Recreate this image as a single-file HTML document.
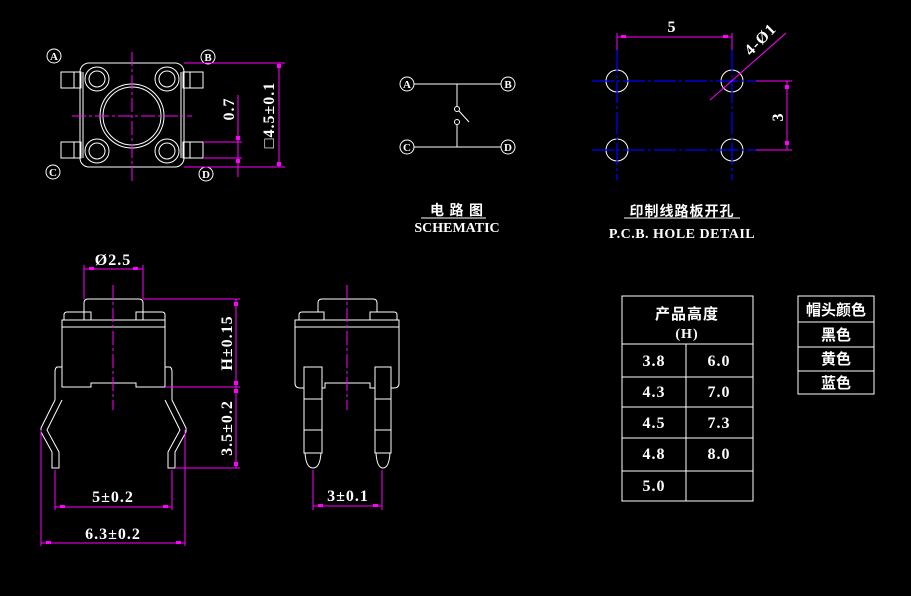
<!DOCTYPE html>
<html><head><meta charset="utf-8"><style>
html,body{margin:0;padding:0;background:#000;}
svg{display:block;}
text{font-family:"Liberation Serif","Noto Serif CJK SC",serif;fill:#fff;font-weight:bold;}
.cj{font-family:"Liberation Serif","Noto Sans CJK SC",sans-serif;}
</style></head><body>
<svg width="911" height="596" viewBox="0 0 911 596" xmlns="http://www.w3.org/2000/svg">
<rect width="911" height="596" fill="#000"/>
<g fill="none" stroke="#fff" stroke-width="1">
<rect x="80" y="63" width="104" height="104" rx="9"/>
<line x1="83" y1="72" x2="83" y2="158"/><line x1="181" y1="72" x2="181" y2="158"/>
<circle cx="97" cy="79" r="12"/><circle cx="97" cy="79" r="8"/>
<circle cx="167" cy="79" r="12"/><circle cx="167" cy="79" r="8"/>
<circle cx="97" cy="151" r="12"/><circle cx="97" cy="151" r="8"/>
<circle cx="167" cy="151" r="12"/><circle cx="167" cy="151" r="8"/>
<circle cx="132" cy="116" r="32"/><circle cx="132" cy="116" r="29"/>
<rect x="61" y="72" width="20" height="16"/><line x1="74" y1="72" x2="74" y2="88"/>
<rect x="183" y="72" width="20" height="16"/><line x1="190" y1="72" x2="190" y2="88"/>
<rect x="61" y="142" width="20" height="16"/><line x1="74" y1="142" x2="74" y2="158"/>
<rect x="183" y="142" width="20" height="16"/><line x1="190" y1="142" x2="190" y2="158"/>
<circle cx="54" cy="56" r="7"/><circle cx="208" cy="57" r="7"/>
<circle cx="53" cy="172" r="7"/><circle cx="206" cy="174" r="7"/>
<circle cx="407" cy="84" r="7"/><circle cx="508" cy="84" r="7"/>
<circle cx="407" cy="147" r="7"/><circle cx="508" cy="147" r="7"/>
<line x1="414" y1="84" x2="501" y2="84"/><line x1="414" y1="147" x2="501" y2="147"/>
<line x1="457" y1="84" x2="457" y2="106"/><circle cx="457" cy="109" r="2.5"/>
<line x1="459" y1="111" x2="469" y2="122"/><circle cx="457" cy="122" r="2.5"/>
<line x1="457" y1="125" x2="457" y2="147"/>
<line x1="421" y1="218" x2="486" y2="218"/>
<line x1="624" y1="218" x2="740" y2="218"/>
<!-- SIDE VIEW -->
<path d="M84 320 L84 303 Q84 299 88 299 L139 299 Q143 299 143 303 L143 320"/>
<path d="M64 320 L64 315 Q64 312 67 312 L91 312 L91 320"/>
<path d="M136 320 L136 312 L162 312 Q165 312 165 315 L165 320"/>
<path d="M62 387 L62 320 L165 320 L165 387 L136 387 L136 383 L91 383 L91 387 Z"/>
<line x1="62" y1="327" x2="165" y2="327"/>
<path d="M62 367 L57 367 Q55 368 55 372 L55 400 L41 428 L41 432 L52 452 L52 468 L59 468 L59 452 L47 430 L62 400"/>
<path d="M165 367 L170 367 Q172 368 172 372 L172 400 L186 428 L186 432 L175 452 L175 468 L168 468 L168 452 L180 430 L165 400"/>
<!-- FRONT VIEW -->
<path d="M318 312 L318 303 Q318 299 322 299 L373 299 Q377 299 377 303 L377 312"/>
<path d="M299 320 L299 315 Q299 312 302 312 L324 312 L324 320"/>
<path d="M370 320 L370 312 L394 312 Q397 312 397 315 L397 320"/>
<path d="M295 320 L399 320 L399 383 Q399 388 394 388 L370 388 L370 383 L325 383 L325 388 L300 388 Q295 388 295 383 Z"/>
<line x1="295" y1="327" x2="399" y2="327"/>
<rect x="304" y="367" width="18" height="86" fill="#000"/>
<line x1="304" y1="399" x2="322" y2="399"/><line x1="304" y1="430" x2="322" y2="430"/>
<path d="M305 453 Q306 468 313 468 Q320 468 321 453"/>
<rect x="375" y="367" width="16" height="86" fill="#000"/>
<line x1="375" y1="399" x2="391" y2="399"/><line x1="375" y1="430" x2="391" y2="430"/>
<path d="M376 453 Q377 468 383 468 Q389 468 390 453"/>
<circle cx="617" cy="81" r="11"/><circle cx="732" cy="81" r="11"/>
<circle cx="617" cy="150" r="11"/><circle cx="732" cy="150" r="11"/>
<rect x="622" y="296" width="131" height="205"/>
<line x1="622" y1="344" x2="753" y2="344"/><line x1="622" y1="377" x2="753" y2="377"/>
<line x1="622" y1="407" x2="753" y2="407"/><line x1="622" y1="438" x2="753" y2="438"/>
<line x1="622" y1="471" x2="753" y2="471"/><line x1="686" y1="344" x2="686" y2="501"/>
<rect x="798" y="296" width="76" height="98"/>
<line x1="798" y1="322" x2="874" y2="322"/><line x1="798" y1="347" x2="874" y2="347"/>
<line x1="798" y1="371" x2="874" y2="371"/>
</g>
<g stroke="#0000ff" stroke-width="1.3" stroke-dasharray="22 3 3 3">
<line x1="592" y1="81" x2="756" y2="81"/><line x1="592" y1="150" x2="756" y2="150"/>
<line x1="617" y1="50" x2="617" y2="180"/><line x1="732" y1="50" x2="732" y2="180"/>
</g>
<g stroke="#ff00ff" stroke-width="1" fill="none">
<line x1="132" y1="52" x2="132" y2="182" stroke-dasharray="14 3 3 3"/>
<line x1="72" y1="116" x2="192" y2="116" stroke-dasharray="14 3 3 3"/>
<line x1="184" y1="63" x2="285" y2="63"/><line x1="184" y1="167" x2="285" y2="167"/>
<line x1="279" y1="63" x2="279" y2="167"/>
<line x1="203" y1="142" x2="242" y2="142"/><line x1="203" y1="158" x2="242" y2="158"/>
<line x1="238" y1="95" x2="238" y2="177"/>
<line x1="113" y1="285" x2="113" y2="410" stroke-dasharray="14 3 3 3"/>
<line x1="84" y1="265" x2="84" y2="299"/><line x1="143" y1="265" x2="143" y2="299"/>
<line x1="84" y1="269" x2="143" y2="269"/>
<line x1="143" y1="299" x2="240" y2="299"/><line x1="165" y1="387" x2="240" y2="387"/>
<line x1="175" y1="468" x2="240" y2="468"/>
<line x1="236" y1="299" x2="236" y2="468"/>
<line x1="55" y1="470" x2="55" y2="510"/><line x1="172" y1="470" x2="172" y2="510"/>
<line x1="55" y1="507" x2="172" y2="507"/>
<line x1="41" y1="430" x2="41" y2="546"/><line x1="185" y1="430" x2="185" y2="546"/>
<line x1="41" y1="543" x2="185" y2="543"/>
<line x1="347" y1="285" x2="347" y2="410" stroke-dasharray="14 3 3 3"/>
<line x1="313" y1="470" x2="313" y2="510"/><line x1="382" y1="470" x2="382" y2="510"/>
<line x1="313" y1="506" x2="382" y2="506"/>
<line x1="617" y1="33" x2="617" y2="50"/><line x1="732" y1="33" x2="732" y2="50"/>
<line x1="617" y1="37" x2="732" y2="37"/>
<line x1="756" y1="81" x2="792" y2="81"/><line x1="756" y1="150" x2="792" y2="150"/>
<line x1="787" y1="81" x2="787" y2="150"/>
<line x1="786" y1="33" x2="710" y2="100"/>
</g>
<g fill="#ff00ff">
<rect x="277" y="64" width="4" height="4"/><rect x="277" y="162" width="4" height="4"/>
<rect x="236" y="136" width="4" height="4"/><rect x="236" y="159" width="4" height="4"/>
<rect x="89" y="267" width="5" height="3"/><rect x="133" y="267" width="5" height="3"/>
<rect x="234" y="302" width="4" height="4"/><rect x="234" y="381" width="4" height="4"/>
<rect x="234" y="389" width="4" height="4"/><rect x="234" y="462" width="4" height="4"/>
<rect x="60" y="505" width="5" height="3"/><rect x="163" y="505" width="5" height="3"/>
<rect x="46" y="541" width="5" height="3"/><rect x="176" y="541" width="5" height="3"/>
<rect x="318" y="504" width="5" height="3"/><rect x="373" y="504" width="5" height="3"/>
<rect x="621" y="35" width="5" height="3"/><rect x="723" y="35" width="5" height="3"/>
<rect x="785" y="85" width="4" height="4"/><rect x="785" y="141" width="4" height="4"/>
</g>
<g font-size="11" text-anchor="middle">
<text x="54" y="60">A</text><text x="208" y="61">B</text>
<text x="53" y="176">C</text><text x="206" y="178">D</text>
<text x="407" y="88">A</text><text x="508" y="88">B</text>
<text x="407" y="151">C</text><text x="508" y="151">D</text>
</g>
<g font-size="16" text-anchor="middle" letter-spacing="1">
<text transform="translate(274,115) rotate(-90)">□4.5±0.1</text>
<text transform="translate(234,109) rotate(-90)">0.7</text>
<text transform="translate(232,343) rotate(-90)">H±0.15</text>
<text transform="translate(232,428) rotate(-90)">3.5±0.2</text>
<text transform="translate(783,117) rotate(-90)">3</text>
<text transform="translate(764,43) rotate(-45)">4-Ø1</text>
<text x="113" y="265">Ø2.5</text>
<text x="113" y="502">5±0.2</text>
<text x="113" y="539">6.3±0.2</text>
<text x="348" y="501">3±0.1</text>
<text x="672" y="32">5</text>
<text x="457" y="232" font-size="14" letter-spacing="0">SCHEMATIC</text>
<text x="682" y="238" font-size="14" letter-spacing="0.5">P.C.B. HOLE DETAIL</text>
<text x="457" y="215" class="cj" font-size="14">电 路 图</text>
<text x="682" y="216" class="cj" font-size="14">印制线路板开孔</text>
<text x="687" y="319" class="cj" font-size="15">产品高度</text>
<text x="687" y="338" font-size="14">(H)</text>
<text x="654" y="366">3.8</text><text x="719" y="366">6.0</text>
<text x="654" y="397">4.3</text><text x="719" y="397">7.0</text>
<text x="654" y="428">4.5</text><text x="719" y="428">7.3</text>
<text x="654" y="459">4.8</text><text x="719" y="459">8.0</text>
<text x="654" y="491">5.0</text>
<text x="836" y="315" class="cj" font-size="15" letter-spacing="0">帽头颜色</text>
<text x="836" y="340" class="cj" font-size="15" letter-spacing="0">黑色</text>
<text x="836" y="364" class="cj" font-size="15" letter-spacing="0">黄色</text>
<text x="836" y="388" class="cj" font-size="15" letter-spacing="0">蓝色</text>
</g>
</svg>
</body></html>
